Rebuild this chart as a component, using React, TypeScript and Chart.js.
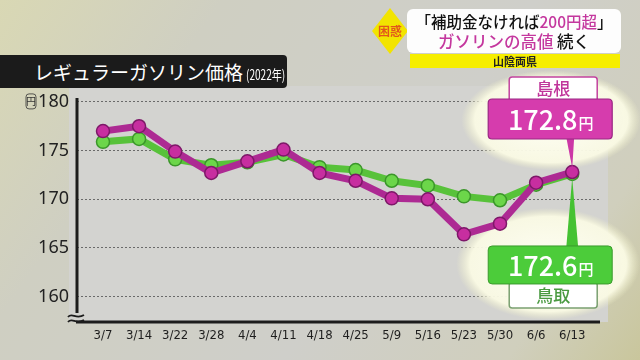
import React, { useEffect, useRef } from "react";
import { Chart, registerables } from "chart.js";

Chart.register(...registerables);

const labels = ["3/7", "3/14", "3/22", "3/28", "4/4", "4/11", "4/18", "4/25", "5/9", "5/16", "5/23", "5/30", "6/6", "6/13"];
const shimane = [177.0, 177.5, 174.9, 172.7, 173.9, 175.1, 172.7, 171.9, 170.1, 170.0, 166.4, 167.5, 171.7, 172.8];
const tottori = [175.9, 176.2, 174.1, 173.5, 173.8, 174.6, 173.3, 173.0, 171.9, 171.4, 170.3, 169.9, 171.5, 172.6];
const yTicks = [160, 165, 170, 175, 180];
const shimaneName = "島根";
const tottoriName = "鳥取";

const JP = '"Noto Sans CJK JP", "Noto Sans", sans-serif';

function roundRect(ctx: CanvasRenderingContext2D, x: number, y: number, w: number, h: number, r: number) {
  ctx.beginPath();
  ctx.moveTo(x + r, y);
  ctx.lineTo(x + w - r, y);
  ctx.quadraticCurveTo(x + w, y, x + w, y + r);
  ctx.lineTo(x + w, y + h - r);
  ctx.quadraticCurveTo(x + w, y + h, x + w - r, y + h);
  ctx.lineTo(x + r, y + h);
  ctx.quadraticCurveTo(x, y + h, x, y + h - r);
  ctx.lineTo(x, y + r);
  ctx.quadraticCurveTo(x, y, x + r, y);
  ctx.closePath();
}

function valueText(ctx: CanvasRenderingContext2D, cx: number, cy: number, v: number) {
  const num = v.toFixed(1);
  ctx.font = `500 27px ${JP}`;
  const w1 = ctx.measureText(num).width;
  ctx.font = `500 15px ${JP}`;
  const w2 = ctx.measureText("円").width;
  const start = cx - (w1 + w2) / 2;
  ctx.fillStyle = "#ffffff";
  ctx.textAlign = "left";
  ctx.textBaseline = "middle";
  ctx.font = `500 27px ${JP}`;
  ctx.fillText(num, start, cy);
  ctx.font = `500 15px ${JP}`;
  ctx.fillText("円", start + w1 + 1, cy + 3);
}

const decorPlugin = {
  id: "decor",
  beforeDraw(chart: any) {
    const { ctx, chartArea } = chart;
    ctx.save();
    ctx.fillStyle = "#d3d3d0";
    ctx.fillRect(chartArea.left - 8, chartArea.top - 12, chartArea.right - chartArea.left + 16, chartArea.bottom - chartArea.top + 12);
    ctx.restore();
  },
  beforeDatasetsDraw(chart: any) {
    const { ctx } = chart;
    const meta0 = chart.getDatasetMeta(0);
    const meta1 = chart.getDatasetMeta(1);
    const p0 = meta0.data[meta0.data.length - 1];
    const p1 = meta1.data[meta1.data.length - 1];
    ctx.save();
    const ell = (cx: number, cy: number, rx: number, ry: number) => {
      ctx.save();
      ctx.translate(cx, cy);
      ctx.scale(rx, ry);
      const gr = ctx.createRadialGradient(0, 0, 0, 0, 0, 1);
      gr.addColorStop(0, "rgba(255,255,245,0.98)");
      gr.addColorStop(0.85, "rgba(250,250,228,0.95)");
      gr.addColorStop(1, "rgba(240,240,200,0)");
      ctx.fillStyle = gr;
      ctx.beginPath();
      ctx.arc(0, 0, 1, 0, Math.PI * 2);
      ctx.fill();
      ctx.restore();
    };
    ell(p0.x - 21, p0.y - 52, 90, 50);
    ell(p1.x - 24, p1.y + 90, 92, 56);
    ctx.restore();
  },
  afterDraw(chart: any) {
    const { ctx, chartArea, scales } = chart;
    ctx.save();
    ctx.strokeStyle = "#1c1c1c";
    ctx.lineWidth = 3;
    ctx.beginPath();
    ctx.moveTo(chartArea.left, chartArea.top);
    ctx.lineTo(chartArea.left, chartArea.bottom - 9);
    ctx.stroke();
    ctx.beginPath();
    ctx.moveTo(chartArea.left - 1, chartArea.bottom);
    ctx.lineTo(chartArea.right, chartArea.bottom);
    ctx.stroke();
    ctx.lineWidth = 1.8;
    for (const dy of [-6, -1]) {
      ctx.beginPath();
      const by = chartArea.bottom + dy;
      ctx.moveTo(chartArea.left - 9, by + 1);
      ctx.bezierCurveTo(chartArea.left - 5, by - 4, chartArea.left - 1, by + 4, chartArea.left + 7, by - 1);
      ctx.stroke();
    }
    const y180 = scales.y.getPixelForValue(180);
    ctx.fillStyle = "#333";
    ctx.font = `10px ${JP}`;
    ctx.textAlign = "center";
    ctx.textBaseline = "middle";
    ctx.fillText("円", 31, y180 - 1);
    ctx.strokeStyle = "#333";
    ctx.lineWidth = 0.8;
    roundRect(ctx, 26, y180 - 8, 10, 15, 3);
    ctx.stroke();

    const meta0 = chart.getDatasetMeta(0);
    const meta1 = chart.getDatasetMeta(1);
    const p0 = meta0.data[meta0.data.length - 1];
    const p1 = meta1.data[meta1.data.length - 1];

    const bx = p0.x - 84;
    const by = p0.y - 73;
    ctx.fillStyle = "#cc37a6";
    ctx.beginPath();
    ctx.moveTo(p0.x - 6, by + 38);
    ctx.lineTo(p0.x + 2, by + 38);
    ctx.lineTo(p0.x, p0.y - 4);
    ctx.closePath();
    ctx.fill();
    roundRect(ctx, bx + 21, by - 22, 88, 26, 3);
    ctx.fillStyle = "#ffffff";
    ctx.fill();
    ctx.strokeStyle = "#c2439f";
    ctx.lineWidth = 1.5;
    ctx.stroke();
    ctx.fillStyle = "#c0369b";
    ctx.font = `500 17px ${JP}`;
    ctx.textAlign = "center";
    ctx.textBaseline = "middle";
    ctx.fillText(shimaneName, bx + 65, by - 10);
    roundRect(ctx, bx, by, 124, 40, 4);
    ctx.fillStyle = "#d63cad";
    ctx.fill();
    ctx.strokeStyle = "#9a2683";
    ctx.lineWidth = 1.2;
    ctx.stroke();
    valueText(ctx, bx + 62, by + 21, shimane[shimane.length - 1]);

    const gx = p1.x - 84;
    const gy = p1.y + 72;
    ctx.fillStyle = "#45c232";
    ctx.beginPath();
    ctx.moveTo(p1.x, p1.y + 4);
    ctx.lineTo(p1.x + 6, gy + 2);
    ctx.lineTo(p1.x - 6, gy + 2);
    ctx.closePath();
    ctx.fill();
    roundRect(ctx, gx + 21, gy + 36, 88, 26, 3);
    ctx.fillStyle = "#ffffff";
    ctx.fill();
    ctx.strokeStyle = "#7aa070";
    ctx.lineWidth = 1.5;
    ctx.stroke();
    ctx.fillStyle = "#4a9a40";
    ctx.font = `500 17px ${JP}`;
    ctx.textAlign = "center";
    ctx.textBaseline = "middle";
    ctx.fillText(tottoriName, gx + 65, gy + 50);
    roundRect(ctx, gx, gy, 124, 38, 4);
    ctx.fillStyle = "#4ccc3a";
    ctx.fill();
    ctx.strokeStyle = "#3a9a2c";
    ctx.lineWidth = 1;
    ctx.stroke();
    valueText(ctx, gx + 62, gy + 20, tottori[tottori.length - 1]);
    ctx.restore();
  },
};

export default function App() {
  const ref = useRef<HTMLCanvasElement | null>(null);
  useEffect(() => {
    document.body.style.margin = "0";
    if (!ref.current) return;
    const chart = new Chart(ref.current, {
      type: "line",
      data: {
        datasets: [
          {
            label: shimaneName,
            data: shimane.map((v, i) => ({ x: i, y: v })),
            borderColor: "#ad2a93",
            backgroundColor: "#c8309f",
            pointBackgroundColor: "#c72ea0",
            pointBorderColor: "#7d1868",
            pointBorderWidth: 1.5,
            pointRadius: 6.5,
            borderWidth: 7,
            tension: 0,
            order: 0,
          },
          {
            label: tottoriName,
            data: tottori.map((v, i) => ({ x: i, y: v })),
            borderColor: "#58c23a",
            backgroundColor: "#6fd44a",
            pointBackgroundColor: "#6cd64a",
            pointBorderColor: "#3b962a",
            pointBorderWidth: 1.5,
            pointRadius: 6.5,
            borderWidth: 7,
            tension: 0,
            order: 1,
          },
        ],
      },
      options: {
        animation: false,
        responsive: false,
        maintainAspectRatio: false,
        layout: { padding: { top: 98, right: 40, left: 0, bottom: 0 } },
        plugins: { legend: { display: false }, tooltip: { enabled: false } },
        scales: {
          x: {
            type: "linear",
            min: -0.72,
            max: 13.77,
            afterBuildTicks: (s: any) => {
              s.ticks = labels.map((_, i) => ({ value: i }));
            },
            afterFit: (s: any) => {
              s.height = 38;
            },
            ticks: {
              autoSkip: false,
              maxRotation: 0,
              padding: 6,
              color: "#1e1e1e",
              font: { family: '"DejaVu Sans Condensed", "Liberation Sans Narrow", sans-serif', size: 13 },
              callback: (v: any) => labels[v] ?? "",
            },
            grid: { display: false, drawTicks: false },
            border: { display: false },
          },
          y: {
            min: 157.4,
            max: 180.4,
            afterBuildTicks: (s: any) => {
              s.ticks = yTicks.map((v) => ({ value: v }));
            },
            afterFit: (s: any) => {
              s.width = 77;
            },
            ticks: {
              padding: 8,
              color: "#222",
              font: { family: '"Noto Sans", sans-serif', size: 18 },
            },
            grid: { color: "#6a6a6a", lineWidth: 1, drawTicks: false },
            border: { display: false, dash: [2, 2] },
          },
        },
      },
      plugins: [decorPlugin],
    } as any);
    return () => chart.destroy();
  }, []);

  return (
    <div
      style={{
        position: "relative",
        width: 640,
        height: 360,
        overflow: "hidden",
        background:
          "linear-gradient(125deg, #d9d8b4 0%, #cfcfc2 25%, #cfcfca 60%, #d0cfbd 85%, #c9c69c 100%)",
      }}
    >
      <canvas ref={ref} width={640} height={360} style={{ position: "absolute", left: 0, top: 0 }} />
      <div
        style={{
          position: "absolute",
          left: 0,
          top: 55,
          width: 287,
          height: 33,
          background: "#1b1b1b",
          borderRadius: "0 4px 4px 0",
          color: "#fff",
          fontFamily: JP,
          display: "flex",
          alignItems: "center",
          paddingLeft: 34,
          boxSizing: "border-box",
          whiteSpace: "nowrap",
        }}
      >
        <span style={{ fontSize: 19 }}>レギュラーガソリン価格</span>
        <span
          style={{
            display: "inline-block",
            fontSize: 14,
            marginLeft: 3,
            marginTop: 4,
            transform: "scaleX(0.72)",
            transformOrigin: "left center",
          }}
        >
          (2022年)
        </span>
      </div>
      <div
        style={{
          position: "absolute",
          left: 372,
          top: 8,
          width: 36,
          height: 46,
          background: "#f2e400",
          clipPath: "polygon(50% 0, 100% 50%, 50% 100%, 0 50%)",
        }}
      />
      <div
        style={{
          position: "absolute",
          left: 372,
          top: 22,
          width: 36,
          textAlign: "center",
          fontFamily: JP,
          fontSize: 12,
          fontWeight: 700,
          color: "#e2561c",
          lineHeight: "18px",
        }}
      >
        困惑
      </div>
      <div
        style={{
          position: "absolute",
          left: 407,
          top: 9,
          width: 214,
          height: 44,
          background: "#fdfdfd",
          borderRadius: 6,
          fontFamily: JP,
          textAlign: "center",
          color: "#111",
          whiteSpace: "nowrap",
        }}
      >
        <div style={{ fontSize: 15.5, lineHeight: "20px", marginTop: 2, fontWeight: 500 }}>
          「補助金なければ<span style={{ color: "#c4379e" }}>200円超</span>」
        </div>
        <div style={{ fontSize: 16.5, lineHeight: "20px", fontWeight: 500 }}>
          <span style={{ color: "#c4379e" }}>ガソリンの高値</span> 続く
        </div>
      </div>
      <div
        style={{
          position: "absolute",
          left: 410,
          top: 54,
          width: 210,
          height: 14,
          background: "#f6ee00",
          fontFamily: JP,
          fontSize: 11,
          fontWeight: 700,
          lineHeight: "14px",
          textAlign: "center",
          color: "#222",
        }}
      >
        山陰両県
      </div>
    </div>
  );
}
